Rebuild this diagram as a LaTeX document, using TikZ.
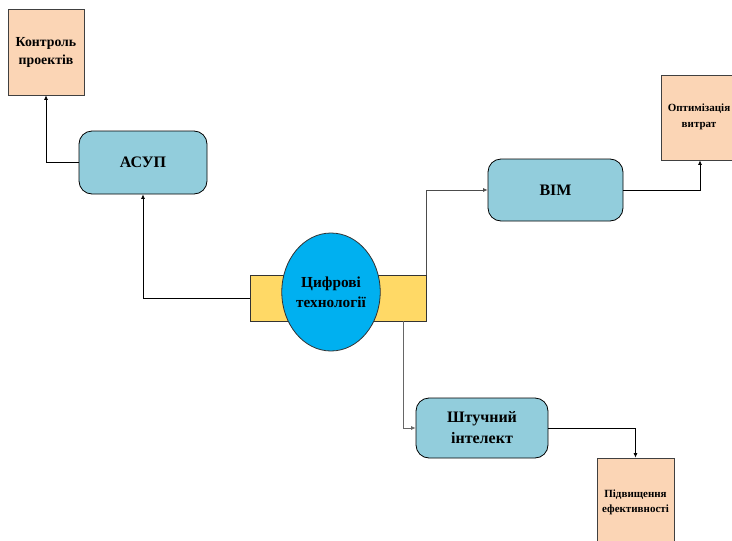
\documentclass[tikz,border=0pt]{standalone}
\usepackage{fontspec}
\setmainfont{Liberation Serif}
\usetikzlibrary{arrows.meta,shapes.geometric}
\definecolor{peach}{HTML}{FBD5B5}
\definecolor{teal}{HTML}{92CDDC}
\definecolor{yel}{HTML}{FFD966}
\definecolor{cyanb}{HTML}{00B0F0}
\tikzset{
  resbox/.style={draw=black!75, fill=peach, line width=0.8pt, font=\bfseries, align=center, inner sep=0pt},
  procbox/.style={draw=black, fill=teal, line width=0.8pt, rounded corners=13pt, font=\bfseries, align=center, inner sep=0pt},
  conn/.style={draw=black, line width=0.7pt, -{Latex[length=4.5pt,width=4pt]}},
}
\begin{document}
\begin{tikzpicture}[x=1pt,y=-1pt]
\useasboundingbox (0,0) rectangle (732,541);
\node[resbox, minimum width=76pt, minimum height=86pt, font=\bfseries\fontsize{13.8}{18}\selectfont] (kontrol) at (46,52) {Контроль\\проектів};
\node[procbox, minimum width=128pt, minimum height=63pt, font=\bfseries\fontsize{16}{18}\selectfont] (asup) at (143,162.5) {АСУП};
\node[draw=black!80, fill=yel, line width=0.8pt, minimum width=176pt, minimum height=46pt, inner sep=0pt] (yellow) at (338,298) {};
\node[ellipse, draw=black!80, fill=cyanb, line width=0.8pt, minimum width=92pt, minimum height=118pt, inner sep=0pt, align=center, font=\bfseries\fontsize{15.3}{20}\selectfont] (digit) at (331,292) {Цифрові\\технології};
\node[procbox, minimum width=135pt, minimum height=62pt, font=\bfseries\fontsize{16}{18}\selectfont] (bim) at (555.5,190) {BIM};
\node[resbox, minimum width=78pt, minimum height=85pt] (opt) at (700,117.5) {};
\node[font=\bfseries\fontsize{11}{16}\selectfont, align=center, inner sep=0pt] (opttext) at (699,117) {Оптимізація\\витрат};
\node[procbox, minimum width=132pt, minimum height=60pt, font=\bfseries\fontsize{16}{21}\selectfont] (ai) at (482,428) {Штучний\\інтелект};
\node[resbox, minimum width=77pt, minimum height=88pt, font=\bfseries\fontsize{11}{15}\selectfont] (eff) at (635.5,502) {Підвищення\\ефективності};
\draw[conn] (asup.west) -| (kontrol.south);
\draw[conn] (yellow.west) -| (asup.south);
\draw[conn, draw=black!70] (yellow.north east) |- (bim.west);
\draw[conn] (bim.east) -| (opt.south);
\coordinate (ybot) at ([xshift=-23pt]yellow.south east);
\draw[conn, draw=black!60] (ybot) |- (ai.west);
\draw[conn] (ai.east) -| (eff.north);
\end{tikzpicture}
\end{document}
